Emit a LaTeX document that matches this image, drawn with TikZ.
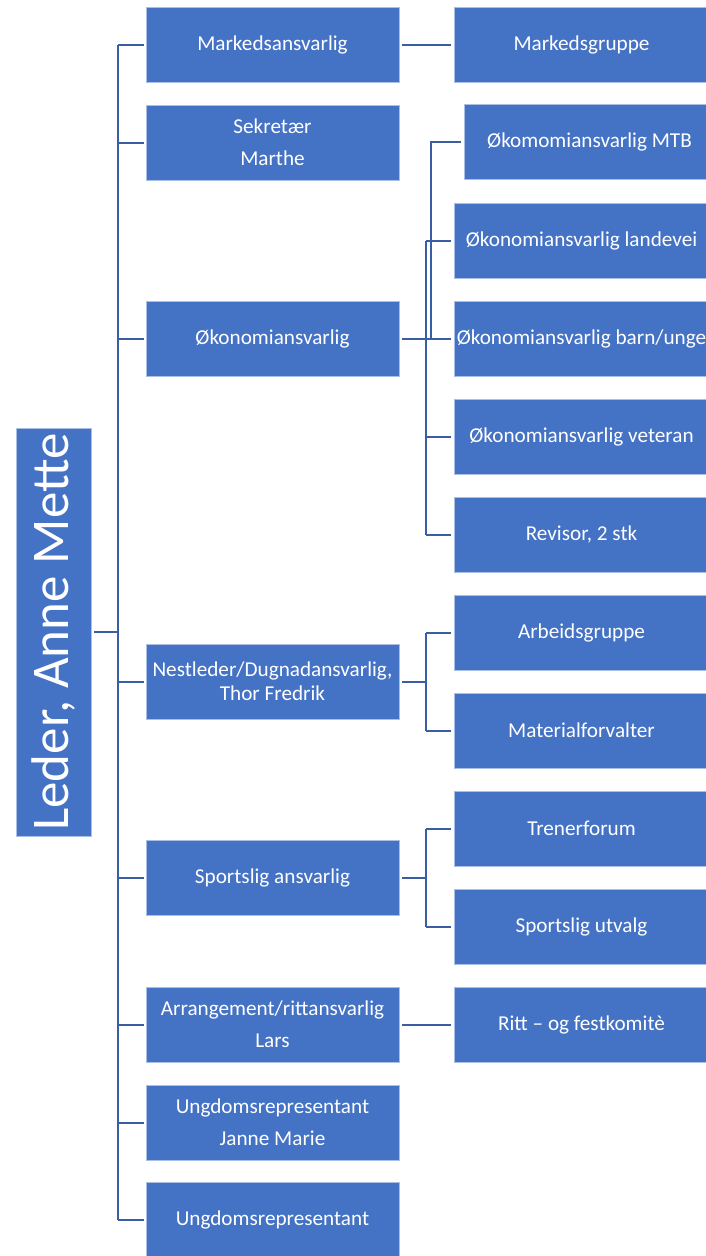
\documentclass[tikz,border=0pt]{standalone}
\usepackage{fontspec}
\setmainfont{Carlito}
\definecolor{boxblue}{HTML}{4472C4}
\definecolor{boxedge}{HTML}{A9BFE6}
\definecolor{linkblue}{HTML}{3A5EA3}
\tikzset{
  box/.style={fill=boxblue, draw=boxedge, line width=0.8pt, text=white, minimum height=75pt, inner sep=0pt, align=center, font=\fontsize{21.2}{32}\selectfont},
  colA/.style={box, minimum width=253pt},
  colB/.style={box, minimum width=255pt},
  link/.style={draw=linkblue, line width=2pt}
}
\begin{document}
\begin{tikzpicture}[x=1pt,y=-1pt]
\useasboundingbox (0,0) rectangle (705,1256);
% leader
\node[box, minimum width=75pt, minimum height=408pt] (leader) at (53.5,632) {};
\node[text=white, rotate=90, font=\fontsize{53}{60}\selectfont] (leadertext) at (leader.center) {Leder, Anne Mette};
% column 1
\node[colA] (mark) at (272.5,44.5) {Markedsansvarlig};
\node[colA] (sekr) at (272.5,142.5) {Sekretær\\Marthe};
\node[colA] (oko) at (272.5,338.5) {Økonomiansvarlig};
\node[colA, font=\fontsize{21.2}{24}\selectfont] (nest) at (272.5,681.5) {Nestleder/Dugnadansvarlig,\\Thor Fredrik};
\node[colA] (sport) at (272.5,877.5) {Sportslig ansvarlig};
\node[colA] (arr) at (272.5,1024.5) {Arrangement/rittansvarlig\\Lars};
\node[colA] (ung1) at (272.5,1122.5) {Ungdomsrepresentant\\Janne Marie};
\node[colA] (ung2) at (272.5,1219.5) {Ungdomsrepresentant};
% column 2
\node[colB] (mgr) at (581.5,44.5) {Markedsgruppe};
\node[colB, minimum width=251pt] (mtb) at (589.5,141.5) {Økomomiansvarlig MTB};
\node[colB] (land) at (581.5,240.5) {Økonomiansvarlig landevei};
\node[colB] (barn) at (581.5,338.5) {Økonomiansvarlig barn/unge};
\node[colB] (vet) at (581.5,436.5) {Økonomiansvarlig veteran};
\node[colB] (rev) at (581.5,534.5) {Revisor, 2 stk};
\node[colB] (arb) at (581.5,632.5) {Arbeidsgruppe};
\node[colB] (mat) at (581.5,730.5) {Materialforvalter};
\node[colB] (tren) at (581.5,828.5) {Trenerforum};
\node[colB] (utv) at (581.5,926.5) {Sportslig utvalg};
\node[colB] (ritt) at (581.5,1024.5) {Ritt – og festkomitè};
% trunk
\coordinate (trunkTop) at (118,44.5);
\coordinate (trunkBot) at (118,1219.5);
\draw[link] (trunkTop) -- (trunkBot);
\draw[link] ([xshift=3pt]leader.east) -- (leader.east -| trunkTop);
\foreach \n in {mark,sekr,oko,nest,sport,arr,ung1,ung2}
  \draw[link] ([xshift=-2pt]\n.west) -- (\n.west -| trunkTop);
% markedsgruppe
\draw[link] ([xshift=3pt]mark.east) -- ([xshift=-3pt]mgr.west);
% okonomi
\coordinate (oj) at (426,338.5);
\coordinate (oj2) at (431,338.5);
\draw[link] ([xshift=3pt]oko.east) -- (oj2);
\draw[link] (land.west -| oj) -- (rev.west -| oj);
\foreach \n in {land,barn,vet,rev}
  \draw[link] (\n.west -| oj) -- ([xshift=-3pt]\n.west);
\draw[link] (oj2) -- (oj2 |- mtb.west) -- ([xshift=-3pt]mtb.west);
% nestleder
\coordinate (nj) at (426,681.5);
\draw[link] ([xshift=3pt]nest.east) -- (nj);
\draw[link] (arb.west -| nj) -- (mat.west -| nj);
\foreach \n in {arb,mat}
  \draw[link] (\n.west -| nj) -- ([xshift=-3pt]\n.west);
% sport
\coordinate (sj) at (426,877.5);
\draw[link] ([xshift=3pt]sport.east) -- (sj);
\draw[link] (tren.west -| sj) -- (utv.west -| sj);
\foreach \n in {tren,utv}
  \draw[link] (\n.west -| sj) -- ([xshift=-3pt]\n.west);
% arrangement
\draw[link] ([xshift=3pt]arr.east) -- ([xshift=-3pt]ritt.west);
\end{tikzpicture}
\end{document}
